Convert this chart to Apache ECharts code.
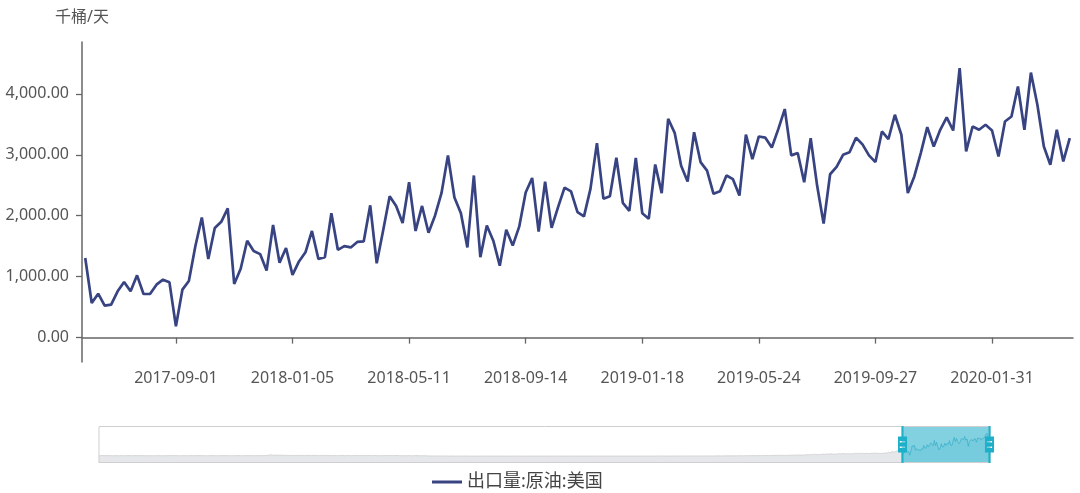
<!DOCTYPE html>
<html><head><meta charset="utf-8">
<script src="https://cdn.jsdelivr.net/npm/echarts@6/dist/echarts.min.js"></script>
<style>html,body{margin:0;padding:0;background:#fff}#c{width:1080px;height:493px}</style>
</head><body><div id="c"></div><script>
// Weekly series start date (first category) — categories step one week
const firstWeek = '1991-02-08';
const seriesName = '出口量:原油:美国';
const unitName = '千桶/天';
const yTickValues = [0, 1000, 2000, 3000, 4000];

// Estimated history (visible only in the zoom slider shadow), thousand bbl/day
const hist1991_1996 = [
96,104,88,112,101,93,117, 85,109,98,122,90,105,99, 113,87,101,95,119,92,108, 100,84,111,97,126,89,103,
107,92,118,99,86,110,95, 121,103,88,114,97,106,91, 99,116,84,108,102,93,120, 87,111,96,105,89,117,100,
91,113,102,87,119,96,108, 94,125,99,85,112,104,90, 117,98,106,83,115,101,92, 109,96,123,88,103,97,114,
110,88,101,124,93,107,96, 115,86,104,98,120,91,109, 95,112,87,103,118,94,100, 122,89,106,97,113,92,105,
98,117,90,106,112,85,103, 96,121,108,92,100,114,87, 105,99,126,91,110,95,116, 88,102,119,93,107,84,111,
102,95,114,89,108,123,97, 91,106,117,86,112,99,104, 120,93,101,88,115,96,109, 113,90,105,124,94,100,87,
115,93,104,98,121,87,110, 99,108,92,116,103,89,119, 97,111,94,106,85,113,101, 92,118,96,107,88,122,104,
89,106,120,95,101,114,92, 108,97,125,90,103,111,86, 116,99,105,93,119,88,107, 100,94,113,121,91,102,110,
105,121,91,108,96,113,87, 118,102,94,110,99,124,92, 103,88,115,107,95,120,98, 111,86,104,117,93,109,101,
97,110,118,92,106,89,123, 101,113,95,104,116,90,108, 122,96,87,112,103,99,119, 94,107,115,91,126,102,109
];
const hist1996_2001 = [
118,135,112,160,128,145,120, 176,138,210,150,132,248,165, 190,142,305,170,156,226,148, 198,262,140,185,158,215,144,
150,132,176,141,162,128,188, 146,171,135,159,124,182,149, 137,168,129,155,143,174,131, 163,140,152,127,170,145,138,
125,148,113,139,160,118,134, 152,121,144,109,137,156,126, 141,116,150,130,107,146,124, 135,158,119,142,111,133,149,
130,112,147,124,138,105,156, 119,142,128,110,151,123,136, 104,145,132,117,153,121,139, 114,148,126,108,141,129,120,
118,137,102,149,125,111,143, 131,98,146,120,134,107,152, 124,139,101,128,144,115,133, 97,142,122,136,109,127,148,
113,131,96,126,142,108,138, 119,102,135,124,145,99,129, 111,140,117,104,132,121,147, 106,128,114,137,100,125,141,
109,127,146,101,133,118,94, 136,122,107,141,115,130,97, 125,138,110,145,103,129,116, 140,99,121,134,112,128,105,
102,120,98,131,114,126,93, 137,108,123,100,129,117,95, 132,111,125,104,139,96,119, 113,127,92,124,106,135,101,
96,114,129,91,118,105,132, 99,121,110,94,127,103,116, 88,124,108,119,97,130,101, 112,93,122,107,89,118,104,
92,108,83,115,97,121,86, 104,112,79,118,95,101,88, 110,76,99,114,84,106,91, 73,102,87,96,68,89,74
];
const hist2001_2011 = [
58,41,66,37,52,45,61, 33,48,55,39,63,42,50, 35,57,44,31,53,40,46, 29,51,38,47,34,43,36,
32,44,27,39,48,30,41, 25,36,45,28,40,33,22, 37,30,46,26,35,42,29, 38,24,33,41,27,36,31,
28,35,22,40,31,26,37, 24,33,29,42,21,34,27, 38,25,32,23,36,30,26, 39,22,31,28,35,24,33,
26,34,21,30,37,24,29, 33,20,28,36,25,31,23, 35,27,22,32,26,38,24, 30,21,29,34,23,27,31,
25,32,20,28,35,23,30, 27,19,33,26,22,29,36, 24,31,21,27,34,25,30, 22,28,33,20,26,31,24,
29,22,33,26,20,31,27, 24,35,21,28,25,32,23, 30,19,26,34,22,28,25, 31,21,27,23,33,26,29,
24,30,21,27,33,25,22, 29,26,20,32,24,28,35, 23,27,21,30,25,31,22, 28,34,24,26,21,29,27,
26,22,31,24,28,20,33, 25,29,23,27,32,21,26, 30,24,28,22,35,25,27, 23,30,26,21,29,24,31,
28,23,30,25,21,32,26, 24,29,27,34,22,28,25, 31,23,27,20,30,26,33, 24,28,22,29,25,31,27,
25,31,24,28,22,30,27, 33,23,26,29,21,32,25, 28,24,30,26,23,35,27, 22,29,25,31,24,28,26,
27,24,32,26,29,23,31, 25,28,22,34,27,24,30, 26,21,29,25,33,28,23, 31,26,24,30,27,22,29,
30,26,23,31,27,25,34, 28,22,29,26,32,24,27, 33,25,30,23,28,26,31, 24,35,27,25,29,23,32,
28,33,25,30,24,36,27, 31,26,29,34,23,28,32, 25,30,27,35,24,29,26, 33,28,31,25,37,27,30,
32,27,35,29,33,26,31, 38,28,34,30,25,36,29, 33,31,27,39,30,35,28, 32,36,29,34,31,40,33,
35,30,38,33,41,29,36, 34,42,31,37,33,39,28, 36,43,32,38,35,30,41, 37,34,44,31,39,36,42,
38,45,34,41,37,46,33, 40,36,48,39,35,44,42, 37,49,38,43,36,47,40, 45,39,51,41,37,46,43,
42,48,39,53,44,40,50, 46,41,55,43,49,38,52, 45,47,42,56,44,50,41, 54,46,43,58,48,45,51,
47,53,44,58,49,45,61, 51,46,56,48,63,50,54, 47,59,52,49,64,53,48, 60,55,51,66,57,50,62
];
const hist2011_2017 = [
55,68,52,74,60,57,79, 63,58,71,66,82,61,75, 69,64,88,70,65,78,72, 91,67,76,85,73,80,95,
78,92,71,86,99,75,88, 104,81,95,77,108,89,84, 112,93,80,101,87,116,97, 90,120,85,106,94,124,99,
102,118,95,128,108,99,135, 114,105,122,97,140,111,126, 103,145,119,109,133,116,150, 107,128,138,121,155,112,132,
125,148,118,160,137,129,172, 142,133,165,151,120,178,146, 139,185,156,144,170,135,192, 161,149,176,158,198,140,168,
155,182,147,205,170,160,215, 178,166,226,188,171,236,194, 180,248,205,187,224,199,262, 210,193,240,218,275,205,230,
228,262,215,290,248,236,305, 268,252,321,275,243,338,290, 270,352,302,281,330,296,365, 318,289,345,312,378,301,336,
330,368,318,395,352,340,410, 372,355,425,388,346,438,397, 375,452,404,380,428,392,466, 415,388,445,410,478,398,432,
420,455,408,482,438,425,495, 458,430,505,466,418,512,470, 445,498,452,428,520,476,440, 506,462,488,435,530,478,455,
470,512,448,538,492,465,550, 505,478,562,515,460,548,498, 472,535,488,455,570,510,480, 525,495,468,545,502,520,485,
505,556,478,590,532,495,612, 545,512,635,560,498,580,525, 548,620,505,568,530,645,515, 590,552,610,535,670,560,598,
580,645,605,720,660,615,760, 690,640,810,735,680,880,750, 820,960,780,1050,870,1150,940, 1100,1230,980,1120,1060,1180,1010
];
// Visible window: 2017-05-26 .. 2020-04-24 (weekly)
const exports2017_2020 = [
1306,569,721,525,541,760,913,760,1022,716,
716,869,951,907,186,787,930,1500,1970,1290,
1800,1900,2120,880,1130,1590,1420,1370,1100,1850,
1230,1470,1030,1250,1400,1750,1290,1320,2040,1440,
1500,1480,1570,1580,2170,1220,1760,2320,2160,1880,
2550,1750,2160,1720,2000,2370,2990,2300,2040,1480,
2660,1320,1840,1590,1180,1770,1510,1820,2380,2620,
1740,2560,1800,2140,2460,2400,2060,1990,2440,3190,
2280,2320,2950,2210,2080,2950,2040,1950,2840,2370,
3590,3360,2820,2560,3370,2880,2740,2360,2400,2660,
2600,2330,3330,2930,3300,3280,3120,3420,3750,2990,
3030,2550,3270,2490,1870,2680,2800,3000,3040,3280,
3170,2990,2880,3382,3257,3656,3328,2372,2644,3028,
3454,3136,3410,3612,3398,4421,3054,3464,3410,3492,
3398,2972,3546,3628,4120,3410,4349,3820,3136,2836,
3410,2890,3274
];

const history = [].concat(hist1991_1996, hist1996_2001, hist2001_2011, hist2011_2017);
const values = history.concat(exports2017_2020);
const t0 = Date.parse(firstWeek + 'T00:00:00Z');
const dates = values.map((_, i) => new Date(t0 + i * 7 * 86400000).toISOString().slice(0, 10));

function fmt(v) {
  const s = Math.abs(v).toFixed(2).split('.');
  return (v < 0 ? '-' : '') + s[0].replace(/\B(?=(\d{3})+(?!\d))/g, ',') + '.' + s[1];
}

const FONT = "'Noto Sans', 'Noto Sans CJK SC', sans-serif";
const chart = echarts.init(document.getElementById('c'), null, {renderer: 'canvas'});
chart.setOption({
  animation: false,
  backgroundColor: '#fff',
  textStyle: {fontFamily: FONT},
  grid: {left: 82, right: 7, top: 42, bottom: 131, containLabel: false},
  xAxis: {
    type: 'category',
    data: dates,
    boundaryGap: true,
    axisLine: {onZero: true, lineStyle: {color: '#666', width: 1.5}},
    axisTick: {show: true, alignWithLabel: true, interval: 17, length: 6, lineStyle: {color: '#666', width: 1.3}},
    axisLabel: {interval: 17, margin: 8, fontSize: 16, color: '#555', fontFamily: FONT, hideOverlap: false},
    splitLine: {show: false}
  },
  yAxis: {
    type: 'value',
    min: -400, max: 4850,
    name: unitName,
    nameLocation: 'end',
    nameGap: 17,
    nameTextStyle: {fontSize: 16, color: '#555', fontFamily: FONT},
    axisLine: {show: true, lineStyle: {color: '#666', width: 1.5}},
    axisTick: {show: true, length: 6, customValues: yTickValues, lineStyle: {color: '#666', width: 1.3}},
    axisLabel: {customValues: yTickValues, margin: 13, fontSize: 16, color: '#555', fontFamily: FONT, formatter: fmt},
    splitLine: {show: false}
  },
  legend: {
    left: 427, top: 468,
    itemWidth: 30, itemHeight: 3,
    icon: 'rect',
    textStyle: {fontSize: 18, color: '#444', fontFamily: FONT},
    data: [seriesName]
  },
  dataZoom: [{
    type: 'slider',
    xAxisIndex: 0,
    startValue: history.length,
    endValue: values.length - 1,
    left: 96, right: 92, top: 426, height: 37,
    showDetail: false,
    brushSelect: false,
    borderColor: '#cfcfcf',
    backgroundColor: '#fff',
    fillerColor: 'rgba(28,172,200,0.55)',
    handleIcon: 'path://M8.2,13.6V3.9H6.3v9.7H3.1v14.9h3.3v9.7h1.8v-9.7h3.3V13.6H8.2z M9.7,24.4H4.8v-1.4h4.9V24.4z M9.7,19.1H4.8v-1.4h4.9V19.1z',
    handleSize: '100%',
    handleStyle: {color: '#1fb0c9', borderColor: '#1fb0c9', borderWidth: 0, shadowBlur: 0},
    dataBackground: {lineStyle: {color: '#c4c4c4', width: 0.6, opacity: 1}, areaStyle: {color: '#e6e7ea', opacity: 1}},
    selectedDataBackground: {lineStyle: {color: '#3aa6bd', width: 0.6, opacity: 1}, areaStyle: {color: 'rgba(40,150,180,0.12)', opacity: 1}}
  }],
  series: [{
    name: seriesName,
    type: 'line',
    data: values,
    showSymbol: false,
    symbol: 'none',
    lineStyle: {color: '#384382', width: 2.7},
    itemStyle: {color: '#384382'}
  }]
});
</script></body></html>
